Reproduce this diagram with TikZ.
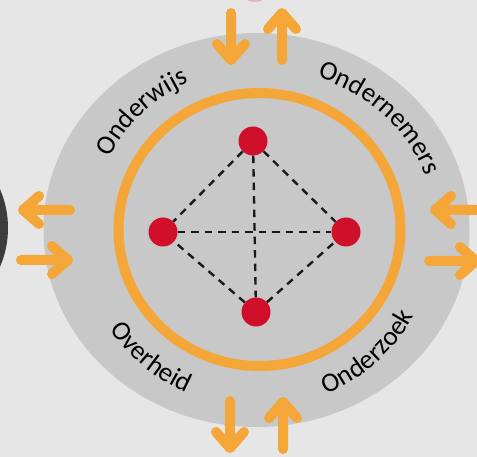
\documentclass[tikz,border=0pt]{standalone}
\usepackage{fontspec}
\newfontfamily\labelfont{Carlito}
\usetikzlibrary{decorations.text}
\definecolor{bg}{HTML}{E6E6E6}
\definecolor{disk}{HTML}{C8C8C8}
\definecolor{ring}{HTML}{F4A639}
\definecolor{dot}{HTML}{D0102A}
\definecolor{darkobj}{HTML}{3C3C3C}
\definecolor{pinkobj}{HTML}{E9B1B9}
\begin{document}
\begin{tikzpicture}[x=1pt,y=1pt,
  oarrow/.style={ring, line width=10pt, line cap=round, line join=round},
  dotnode/.style={circle, fill=dot, minimum size=29pt, inner sep=0pt},
  link/.style={black!90, line width=2.4pt, dash pattern=on 7.5pt off 6pt},
  lbl/.style={decoration={text along path, text align=center,
      text={|\labelfont\fontsize{27}{27}\selectfont|#1}}, decorate},
  dblarrow/.pic={\draw[oarrow] (0,0) -- (0,47) (-14,31) -- (0,47) -- (14,31);}
]
\useasboundingbox (0,0) rectangle (477,457);
\begin{scope}
\clip (0,0) rectangle (477,457);
\fill[bg] (0,0) rectangle (477,457);
\fill[darkobj] (-90,229) circle (98);
\fill[pinkobj] (255,472) circle (17);
\coordinate (c) at (258,227);
\fill[disk] (256.5,227) ellipse [x radius=213, y radius=197];
\draw[ring, line width=10pt] (259.5,227.5) ellipse [x radius=141, y radius=136.5];

% dots
\node[dotnode] (t) at (253,316) {};
\node[dotnode] (l) at (163,225) {};
\node[dotnode] (r) at (346,225) {};
\node[dotnode] (b) at (256,145) {};
\draw[link] (t) -- (l);
\draw[link] (t) -- (r);
\draw[link] (b) -- (l);
\draw[link] (b) -- (r);
\draw[link] (l) -- (r);
\draw[link] (t) -- (b);

% arrows
\pic[rotate=180] at (231,444) {dblarrow};
\pic at (282,397) {dblarrow};
\pic[rotate=180] at (230,56) {dblarrow};
\pic at (283,8) {dblarrow};
\pic[rotate=90] at (70,247) {dblarrow};
\pic[rotate=-90] at (21,197) {dblarrow};
\pic[rotate=90] at (482,247) {dblarrow};
\pic[rotate=-90] at (429,196) {dblarrow};

% labels
\path[lbl=Onderwijs] (c) ++(165:166 and 162) arc[start angle=165, end angle=103, x radius=166, y radius=162];
\path[lbl=Ondernemers] (c) ++(83:178 and 162) arc[start angle=83, end angle=6, x radius=178, y radius=162];
\path[lbl=Overheid] (c) ++(200:178) arc[start angle=200, end angle=260, radius=178];
\path[lbl=Onderzoek] (c) ++(282:178) arc[start angle=282, end angle=342, radius=178];
\end{scope}
\end{tikzpicture}
\end{document}
